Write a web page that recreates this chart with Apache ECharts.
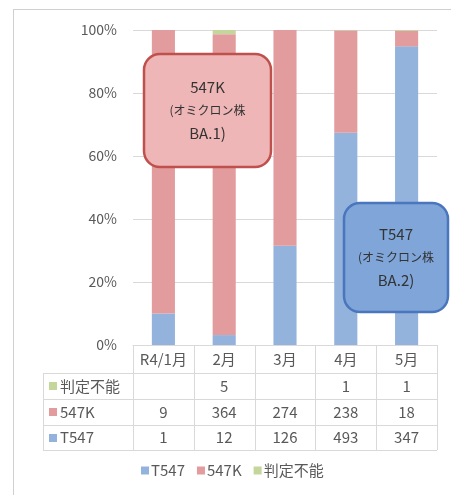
<!DOCTYPE html>
<html><head><meta charset="utf-8">
<script src="https://cdn.jsdelivr.net/npm/echarts@6/dist/echarts.min.js"></script>
<style>html,body{margin:0;padding:0;background:#fff}#c{width:451px;height:495px}</style>
</head><body><div id="c"></div>
<script>
const categories = ['R4/1月', '2月', '3月', '4月', '5月'];
const seriesNames = ['T547', '547K', '判定不能'];
const t547 = [1, 12, 126, 493, 347];
const k547 = [9, 364, 274, 238, 18];
const undetermined = [null, 5, null, 1, 1];
const yTickValues = [0, 20, 40, 60, 80, 100];

const colors = ['#93b2dc', '#e29c9d', '#c4d69c'];
const FONT = "'Noto Sans CJK JP', 'Noto Sans', sans-serif";
const TXT = '#595959';

const raw = [t547, k547, undetermined];
const totals = categories.map((_, i) => raw.reduce((s, a) => s + (a[i] || 0), 0));
const pct = raw.map(a => a.map((v, i) => v == null ? null : v / totals[i] * 100));

const chart = echarts.init(document.getElementById('c'), null, {renderer: 'canvas'});
const G = {left: 133, top: 30, right: 14, bottom: 150};

chart.setOption({
  animation: false,
  backgroundColor: '#fff',
  textStyle: {fontFamily: FONT},
  grid: {left: G.left, top: G.top, right: G.right, bottom: G.bottom, containLabel: false},
  legend: {
    data: seriesNames, left: 136, top: 458, itemWidth: 8, itemHeight: 8, itemGap: 12,
    icon: 'rect', textStyle: {color: TXT, fontSize: 15, fontFamily: FONT, padding: [0, 0, 0, -3]}
  },
  xAxis: {
    type: 'category', data: categories,
    axisLine: {show: true, lineStyle: {color: '#d9d9d9'}},
    axisTick: {show: false}, axisLabel: {show: false}
  },
  yAxis: {
    type: 'value', min: 0, max: 100, interval: 20,
    axisLine: {show: false}, axisTick: {show: false},
    splitLine: {lineStyle: {color: '#d9d9d9'}},
    axisLabel: {formatter: '{value}%', color: TXT, fontSize: 14, margin: 16, fontFamily: FONT}
  },
  series: seriesNames.map((n, k) => ({
    name: n, type: 'bar', stack: 'a', barWidth: '38%',
    itemStyle: {color: colors[k]}, data: pct[k]
  }))
});

// Build data table and annotations
const centers = categories.map(c => chart.convertToPixel({xAxisIndex: 0}, c));
const bw = centers[1] - centers[0];
const xL = centers[0] - bw / 2, xR = centers[centers.length - 1] + bw / 2;
const y0 = chart.convertToPixel({yAxisIndex: 0}, 0);
const rowY = [y0, 373, 399, 425, 450];
const labelLeft = 43;
const lineColor = '#d9d9d9';
const els = [];
function line(x1, y1, x2, y2) {
  els.push({type: 'line', shape: {x1, y1, x2, y2}, style: {stroke: lineColor, lineWidth: 1}, silent: true});
}
// horizontal lines
for (let r = 1; r < rowY.length; r++) line(labelLeft, rowY[r] + 0.5, xR, rowY[r] + 0.5);
// vertical lines
for (let i = 0; i <= categories.length; i++) {
  const x = Math.round(xL + bw * i) + 0.5;
  line(x, rowY[0], x, rowY[4]);
}
line(labelLeft + 0.5, rowY[1], labelLeft + 0.5, rowY[4]);
// header
categories.forEach((c, i) => {
  els.push({type: 'text', x: centers[i], y: (rowY[0] + rowY[1]) / 2,
    style: {text: c, fill: TXT, font: '15px ' + FONT, align: 'center', verticalAlign: 'middle'}});
});
// rows: 判定不能, 547K, T547
const rowOrder = [2, 1, 0];
rowOrder.forEach((k, r) => {
  const yc = (rowY[r + 1] + rowY[r + 2]) / 2;
  els.push({type: 'rect', shape: {x: 49, y: Math.round(yc - 4), width: 8, height: 8}, style: {fill: colors[k]}});
  els.push({type: 'text', x: 60, y: yc,
    style: {text: seriesNames[k], fill: TXT, font: '15px ' + FONT, align: 'left', verticalAlign: 'middle'}});
  raw[k].forEach((v, i) => {
    if (v == null) return;
    els.push({type: 'text', x: centers[i], y: yc,
      style: {text: String(v), fill: TXT, font: '15px ' + FONT, align: 'center', verticalAlign: 'middle'}});
  });
});
// frame
els.push({type: 'line', shape: {x1: 13, y1: 9.5, x2: 451, y2: 9.5}, style: {stroke: '#d0d0d0', lineWidth: 1}});
els.push({type: 'line', shape: {x1: 13.5, y1: 9, x2: 13.5, y2: 495}, style: {stroke: '#d0d0d0', lineWidth: 1}});

// annotation boxes
function callout(x, y, w, h, fill, stroke, l1, l2, l3) {
  els.push({type: 'rect', z: 100, shape: {x, y, width: w, height: h, r: 16},
    style: {fill, stroke, lineWidth: 2.5}});
  els.push({type: 'text', z: 101, x: x + w / 2, y: y + h / 2,
    style: {
      text: '{a|' + l1 + '}\n{b|' + l2 + '}\n{a|' + l3 + '}',
      align: 'center', verticalAlign: 'middle', fill: '#333',
      rich: {
        a: {fontSize: 15, lineHeight: 24, fontFamily: FONT, fill: '#333'},
        b: {fontSize: 12, lineHeight: 22, fontFamily: FONT, fill: '#333'}
      }
    }});
}
callout(144, 54, 127, 113, '#efb6b7', '#c0504d', '547K', '(オミクロン株', 'BA.1)');
callout(344, 203, 104, 109, '#7fa5d9', '#4a76bd', 'T547', '(オミクロン株', 'BA.2)');

chart.setOption({graphic: {elements: els}});
</script></body></html>
